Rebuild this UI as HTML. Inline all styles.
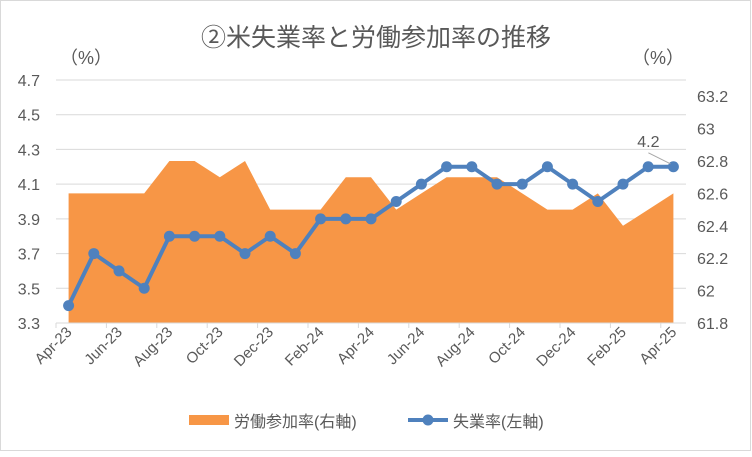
<!DOCTYPE html>
<html><head><meta charset="utf-8"><style>
body{margin:0;background:#fff}
svg text{font-family:"Liberation Sans","Noto Sans CJK JP",sans-serif;fill:#595959}
</style></head><body>
<svg width="752" height="452" xmlns="http://www.w3.org/2000/svg">
<rect x="0.5" y="0.5" width="750" height="450" fill="#fff" stroke="#d9d9d9"/>
<text x="376" y="46" text-anchor="middle" font-size="25" style="fill:#595959">②米失業率と労働参加率の推移</text>
<text x="60" y="64" font-size="18">（%）</text>
<text x="632" y="64" font-size="18">（%）</text>
<g id="grid"></g><g id="area"></g><g id="axes"></g><g id="line"></g>
<g>
<rect x="189" y="415" width="40" height="10" fill="#f79646"/>
<text x="234" y="427" font-size="16">労働参加率(右軸)</text>
<line x1="408" y1="420" x2="448" y2="420" stroke="#4f81bd" stroke-width="4"/>
<circle cx="428" cy="420" r="5.5" fill="#4f81bd"/>
<text x="453" y="427" font-size="16">失業率(左軸)</text>
</g>
</svg>
<script>
const categories=["Apr-23","May-23","Jun-23","Jul-23","Aug-23","Sep-23","Oct-23","Nov-23","Dec-23","Jan-24","Feb-24","Mar-24","Apr-24","May-24","Jun-24","Jul-24","Aug-24","Sep-24","Oct-24","Nov-24","Dec-24","Jan-25","Feb-25","Mar-25","Apr-25"];
const unemployment=[3.4,3.7,3.6,3.5,3.8,3.8,3.8,3.7,3.8,3.7,3.9,3.9,3.9,4.0,4.1,4.2,4.2,4.1,4.1,4.2,4.1,4.0,4.1,4.2,4.2];
const participation=[62.6,62.6,62.6,62.6,62.8,62.8,62.7,62.8,62.5,62.5,62.5,62.7,62.7,62.5,62.6,62.7,62.7,62.7,62.6,62.5,62.5,62.6,62.4,62.5,62.6];
const leftTicks=[3.3,3.5,3.7,3.9,4.1,4.3,4.5,4.7];
const rightTicks=["61.8","62","62.2","62.4","62.6","62.8","63","63.2"];
const NS="http://www.w3.org/2000/svg";
const X0=56,X1=686,YT=80,YB=323;
const bw=(X1-X0)/categories.length;
const xs=i=>X0+bw*(i+0.5);
const yl=v=>YB-(v-3.3)/(4.7-3.3)*(YB-YT);
const yr=v=>YB-(v-61.8)/(63.3-61.8)*(YB-YT);
function mk(t,a,p){const e=document.createElementNS(NS,t);for(const k in a)e.setAttribute(k,a[k]);p.appendChild(e);return e;}
const grid=document.getElementById('grid'),axes=document.getElementById('axes'),area=document.getElementById('area'),line=document.getElementById('line');
leftTicks.forEach(v=>{
 const g=mk('line',{x1:X0,x2:X1,y1:yl(v),y2:yl(v),stroke:'#d9d9d9','stroke-width':1},grid);
 
 
 const t=mk('text',{x:40,y:yl(v)+6,'text-anchor':'end','font-size':16},axes);t.textContent=v.toFixed(1);
 
 
});
rightTicks.forEach(s=>{
 const t=mk('text',{x:697,y:yr(parseFloat(s))+6,'font-size':16},axes);t.textContent=s;
 
 
});
let d='M'+xs(0)+' '+YB;
participation.forEach((v,i)=>{d+=' L'+xs(i)+' '+yr(v);});
d+=' L'+xs(participation.length-1)+' '+YB+' Z';
const ar=mk('path',{d:d,fill:'#f79646'},area);


const ax=mk('line',{x1:X0,x2:X1,y1:YB,y2:YB,stroke:'#d9d9d9'},axes);


for(let i=0;i<=categories.length;i+=2){
 const tk=mk('line',{x1:X0+bw*i,x2:X0+bw*i,y1:YB,y2:YB+5,stroke:'#d9d9d9'},axes);
 
 
}
categories.forEach((c,i)=>{
 if(i%2)return;
 const x=xs(i)+4,y=YB+10;
 const t=mk('text',{x:x,y:y,'text-anchor':'end','font-size':15,transform:`rotate(-45 ${x} ${y})`},axes);t.textContent=c;
 
 
});
const pts=unemployment.map((v,i)=>xs(i)+','+yl(v)).join(' ');
const pl=mk('polyline',{points:pts,fill:'none',stroke:'#4f81bd','stroke-width':4,'stroke-linejoin':'round'},line);


unemployment.forEach((v,i)=>{
 const c=mk('circle',{cx:xs(i),cy:yl(v),r:5.5,fill:'#4f81bd'},line);
 
 
});
const li=unemployment.length-1;
const lx=xs(li),ly=yl(unemployment[li]);
const ll=mk('line',{x1:lx-25,y1:ly-14,x2:lx-3,y2:ly-3,stroke:'#a6a6a6'},line);


const lt=mk('text',{x:lx-25,y:ly-20,'text-anchor':'middle','font-size':16},line);lt.textContent=unemployment[li].toFixed(1);


</script>
</body></html>
